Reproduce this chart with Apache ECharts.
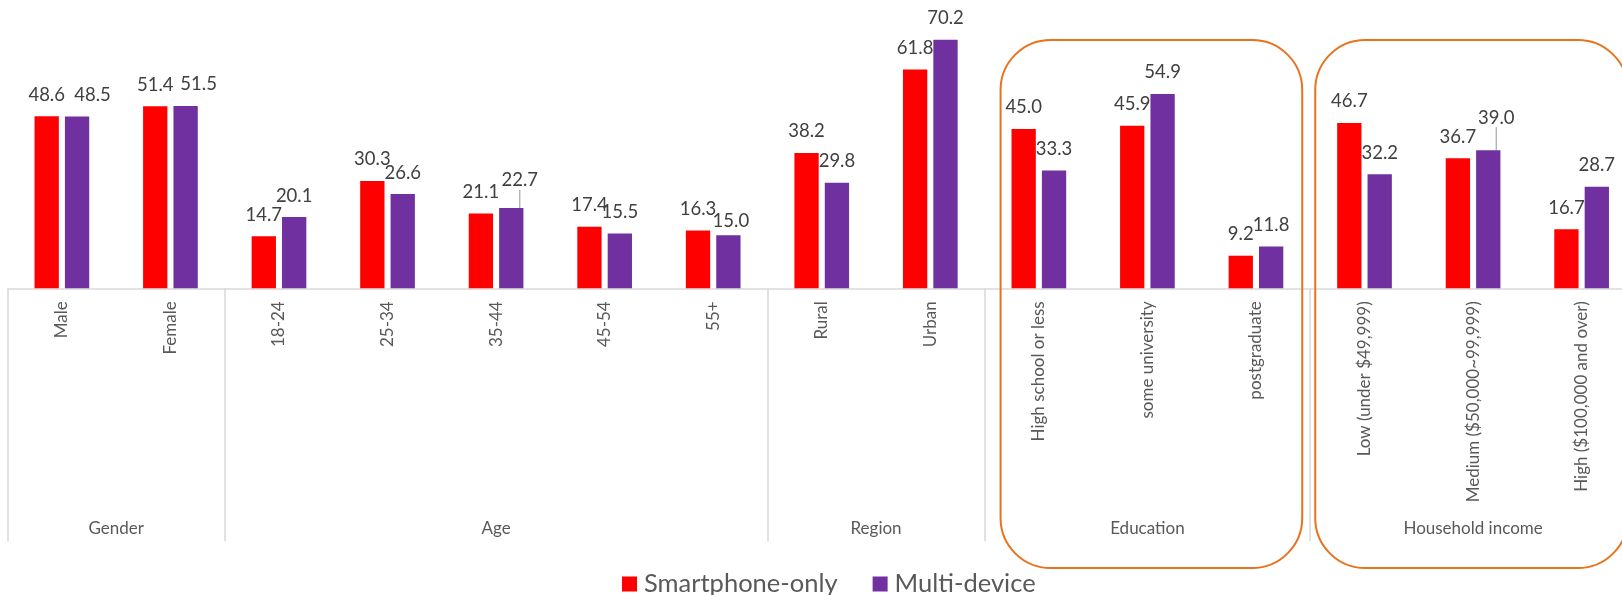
<!DOCTYPE html>
<html>
<head>
<meta charset="utf-8">
<script src="https://cdn.jsdelivr.net/npm/echarts@6/dist/echarts.min.js"></script>
<style>
  html, body { margin: 0; padding: 0; background: #fff; overflow: hidden; }
  /* the plot runs slightly past the right edge of the page */
  #chart { width: 1644px; height: 595px; }
</style>
</head>
<body>
<div id="chart"></div>
<script>
// Categories along the axis, in display order
const categories = [
  'Male', 'Female',
  '18-24', '25-34', '35-44', '45-54', '55+',
  'Rural', 'Urban',
  'High school or less', 'some university', 'postgraduate',
  'Low (under $49,999)', 'Medium ($50,000~99,999)', 'High ($100,000 and over)'
];

// Outer grouping of the categories
const groupNames = ['Gender', 'Age', 'Region', 'Education', 'Household income'];
const groupSizes = [2, 5, 2, 3, 3];

// Series values (%)
const smartphoneOnly = [48.6, 51.4, 14.7, 30.3, 21.1, 17.4, 16.3, 38.2, 61.8, 45.0, 45.9, 9.2, 46.7, 36.7, 16.7];
const multiDevice    = [48.5, 51.5, 20.1, 26.6, 22.7, 15.5, 15.0, 29.8, 70.2, 33.3, 54.9, 11.8, 32.2, 39.0, 28.7];

// Groups that get an orange highlight frame
const highlighted = ['Education', 'Household income'];

// Hand-placed value labels on the Multi-device series: [dx, dy, with leader line]
const labelNudges = {
  0: [15.5, 0, false],
  1: [13, 0, false],
  4: [8.5, -6, true],
  6: [2.5, 7, false],
  13: [8, -11, true]
};

const FONT = 'Lato, "Open Sans", sans-serif';
const GREY_TEXT = '#595959';
const AXIS_GREY = '#D9D9D9';

// Category indices where an outer group begins (left edge tick)
const groupStarts = [];
groupSizes.reduce((acc, n) => { groupStarts.push(acc); return acc + n; }, 0);

const chart = echarts.init(document.getElementById('chart'), null, { renderer: 'canvas' });

const labelFmt = p => p.value.toFixed(1);

function seriesData(values, nudges) {
  return values.map((v, i) => {
    const n = nudges && nudges[i];
    if (n && n[2]) {
      return { value: v, labelLine: { show: true } };
    }
    return v;
  });
}

const valueLabel = {
  show: true, position: 'top', distance: 12,
  formatter: labelFmt,
  fontFamily: FONT, fontSize: 18.5, color: '#404040'
};

const option = {
  animation: false,
  backgroundColor: '#ffffff',
  grid: { left: 7.6, top: 5, width: 1628.3, height: 283.3, containLabel: false },
  legend: {
    left: 617,
    top: 566,
    icon: 'rect',
    itemWidth: 15,
    itemHeight: 15,
    itemGap: 35,
    textStyle: { fontFamily: FONT, fontSize: 25.5, color: GREY_TEXT, padding: [0, 0, 0, 2] },
    data: ['Smartphone-only', 'Multi-device']
  },
  xAxis: {
    type: 'category',
    data: categories,
    boundaryGap: true,
    axisLine: { show: true, lineStyle: { color: AXIS_GREY, width: 1.5 } },
    axisTick: {
      show: true,
      length: 253,
      interval: (index) => groupStarts.includes(index),
      lineStyle: { color: AXIS_GREY, width: 1.5 }
    },
    axisLabel: {
      rotate: 90,
      margin: 13,
      interval: 0,
      fontFamily: FONT,
      fontSize: 17,
      color: GREY_TEXT
    }
  },
  yAxis: {
    type: 'value',
    min: 0,
    max: 80,
    show: false,
    splitLine: { show: false }
  },
  series: [
    {
      name: 'Smartphone-only',
      type: 'bar',
      data: smartphoneOnly,
      barWidth: 24.3,
      barGap: '25%',
      itemStyle: { color: '#FF0000' },
      label: valueLabel
    },
    {
      name: 'Multi-device',
      type: 'bar',
      data: seriesData(multiDevice, labelNudges),
      barWidth: 24.3,
      barGap: '25%',
      itemStyle: { color: '#7030A0' },
      label: valueLabel,
      labelLine: { show: false, lineStyle: { color: '#A6A6A6', width: 1.2 } },
      labelLayout: (params) => {
        const n = labelNudges[params.dataIndex];
        return n ? { dx: n[0], dy: n[1] } : {};
      }
    }
  ]
};

chart.setOption(option);

// Outer group captions and highlight frames, placed from the category axis
function drawGroups() {
  const c0 = chart.convertToPixel({ xAxisIndex: 0 }, 0);
  const c1 = chart.convertToPixel({ xAxisIndex: 0 }, 1);
  const step = c1 - c0;
  const edge = i => c0 - step / 2 + i * step;

  const elements = [];
  let start = 0;
  groupNames.forEach((name, g) => {
    const end = start + groupSizes[g];
    const x0 = edge(start), x1 = edge(end);
    elements.push({
      type: 'text',
      x: (x0 + x1) / 2,
      y: 529,
      style: {
        text: name,
        fontFamily: FONT,
        fontSize: 17,
        fill: GREY_TEXT,
        align: 'center',
        verticalAlign: 'middle'
      },
      silent: true
    });
    if (highlighted.includes(name)) {
      const left = x0 + (g === groupNames.length - 1 ? 5 : 16);
      const right = x1 - 8;
      elements.push({
        type: 'rect',
        shape: { x: left, y: 40, width: right - left, height: 528, r: 50 },
        style: { fill: null, stroke: '#E8731E', lineWidth: 2 },
        silent: true,
        z: 100
      });
    }
    start = end;
  });
  chart.setOption({ graphic: { elements } });
}

drawGroups();
</script>
</body>
</html>
